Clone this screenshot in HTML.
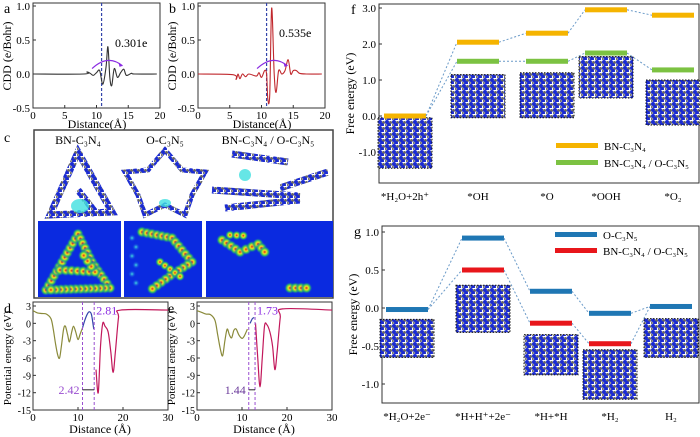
<!DOCTYPE html>
<html><head><meta charset="utf-8"><style>
body{margin:0;background:#fff}
svg{display:block;font-family:"Liberation Serif",serif}
</style></head><body>
<svg id="s" width="700" height="437" viewBox="0 0 700 437" xmlns="http://www.w3.org/2000/svg">
<defs>
<pattern id="mol" width="7" height="6" patternUnits="userSpaceOnUse">
<rect width="7" height="6" fill="#fff"/>
<circle cx="2" cy="2" r="2" fill="#1a2ad0"/><circle cx="5.5" cy="2.5" r="1.5" fill="#666"/>
<circle cx="4" cy="5" r="2" fill="#1a2ad0"/><circle cx="0.5" cy="5" r="1.4" fill="#777"/>
</pattern>
<radialGradient id="hot"><stop offset="0" stop-color="#e02020"/><stop offset=".3" stop-color="#f0e020"/><stop offset=".6" stop-color="#30c060"/><stop offset="1" stop-color="#0a2ae0" stop-opacity="0"/></radialGradient>
<radialGradient id="cool"><stop offset="0" stop-color="#40e0e0"/><stop offset="1" stop-color="#0a2ae0" stop-opacity="0"/></radialGradient>
</defs>
<g id="root"></g>
</svg>
<script>
// ---------- data ----------
const cddAx=[0,8,8.5,9,9.5,10,10.5,11,11.5,11.8,12.1,12.4,12.8,13.3,13.8,14.3,14.7,15.5,16,19.5];
const cddAy=[0,0,0.03,0.01,-0.02,0.02,0.05,-0.15,0.1,0.4,-0.05,-0.17,0.08,-0.05,0.02,0.07,-0.02,0.01,0,0];
const cddBx=[0,5.5,6,6.3,6.6,7,7.5,8,9.2,9.6,10,10.5,10.8,11,11.3,11.6,12,12.3,12.7,13.2,13.7,14.2,14.6,15,15.5,16,17,19.5];
const cddBy=[0,-0.01,-0.08,0,-0.07,0,-0.04,0,-0.03,0.02,-0.05,0.05,0,-0.37,-0.3,0.97,0,-0.27,0.05,0,0.05,0.21,0,0.05,0.05,0.01,0,0];
const peD_x=[0,1,2,3,4,4.5,5,5.5,5.9,6.3,6.8,7.2,7.7,8.1,8.6,9,9.5,10,10.5,11,11.5,12,12.5,13,13.5,14,14.5,15,15.5,16,16.7,17.3,17.8,18.3,19,19.5,30];
const peD_y=[2.2,1.8,1.7,1.6,0.8,-1,-3.5,-5.5,-6,-4,-1,-0.5,-2,-3.2,-1.5,-0.5,-1.5,-2.8,-1.8,-0.8,0.5,1.5,2,1.5,-1,-8,-12,-4,0,-0.5,-1.5,-5,-8.5,-5,1,2.3,2.3];
const peE_x=[0,1,2,3,4,4.6,5.2,5.7,6.2,6.7,7.2,7.7,8.2,8.7,9.3,10,10.5,11.2,11.8,12.3,12.7,13,13.5,14,14.5,15,15.5,16.2,16.8,17.3,17.8,18.5,19,30];
const peE_y=[2.2,1.9,1.6,1.5,0.5,-2,-4.5,-5.6,-3,-1,-2,-2.5,-1.2,-1,-2,-2.6,-2.2,-1,0,0.8,1,0,-6,-11,-6,-0.5,-0.2,-1.5,-4,-8,-5,1,2.5,2.3];
const fCats=["*H\u2082O+2h\u207A","*OH","*O","*OOH","*O\u2082"];
const fOrange=[0,2.05,2.3,2.95,2.8];
const fGreen=[null,1.52,1.52,1.75,1.28];
const fTicks=[3,2,1,0,-1];
const gCats=["*H\u2082O+2e\u207B","*H+H\u207A+2e\u207B","*H+*H","*H\u2082","H\u2082"];
const gBlue=[-0.02,0.92,0.22,-0.07,0.02];
const gRed=[null,0.5,-0.2,-0.47,null];
const gTicks=[1,0.5,0,-0.5,-1];

const NS="http://www.w3.org/2000/svg";
const root=document.getElementById('root');
function el(tag,attrs,parent,txt){const e=document.createElementNS(NS,tag);for(const k in attrs)e.setAttribute(k,attrs[k]);if(txt!=null)e.textContent=txt;(parent||root).appendChild(e);return e;}
function smooth(pts){let d="M"+pts[0][0]+","+pts[0][1];for(let i=0;i<pts.length-1;i++){const p0=pts[i-1]||pts[i],p1=pts[i],p2=pts[i+1],p3=pts[i+2]||p2;const c1=[p1[0]+(p2[0]-p0[0])/6,p1[1]+(p2[1]-p0[1])/6],c2=[p2[0]-(p3[0]-p1[0])/6,p2[1]-(p3[1]-p1[1])/6];d+=`C${c1[0]},${c1[1]} ${c2[0]},${c2[1]} ${p2[0]},${p2[1]}`;}return d;}
function fmt(v,n){return v.toFixed(n);}

// ---------- CDD panels ----------
function cdd(x0,xs,ys,color,letter,dash,label,lx,ly,name){
  const g=el('g',{});
  const X=v=>x0+v*6.35, Y=v=>74-v*68;
  el('rect',{x:x0,y:3,width:127,height:105,fill:'none',stroke:'#333','stroke-width':1},g);
  [1,0.5,0,-0.5].forEach(t=>{el('line',{x1:x0,x2:x0+3,y1:Y(t),y2:Y(t),stroke:'#333'},g);const tl=el('text',{x:x0-3,y:Y(t)+4,'text-anchor':'end','font-size':11},g,fmt(t,1));});
  [0,5,10,15,20].forEach(t=>{el('line',{x1:X(t),x2:X(t),y1:108,y2:105,stroke:'#333'},g);el('text',{x:X(t),y:119,'text-anchor':'middle','font-size':11},g,t);});
  const xt=el('text',{x:x0+64,y:128,'text-anchor':'middle','font-size':12},g,'Distance(\u00C5)');
  const yt=el('text',{transform:`translate(${x0-22},56) rotate(-90)`,'text-anchor':'middle','font-size':12},g,'CDD (e/Bohr)');
  el('text',{x:x0-29,y:13,'font-size':14},g,letter);
  el('line',{x1:X(dash),x2:X(dash),y1:3,y2:108,stroke:'#3344aa','stroke-dasharray':'3,2','stroke-width':1.2},g);
  const p=el('path',{d:smooth(xs.map((v,i)=>[X(v),Y(ys[i])])),fill:'none',stroke:color,'stroke-width':1.1},g);
  el('path',{d:`M${X(dash-1.5)},${Y(0.08)} Q${X(dash+1)},${Y(0.3)} ${X(dash+3.3)},${Y(0.12)}`,fill:'none',stroke:'#8a2be2','stroke-width':1.2},g);
  el('path',{d:`M${X(dash+3.3)},${Y(0.12)} l-4,-3 l1,4z`,fill:'#8a2be2'},g);
  el('text',{x:lx,y:ly,'font-size':12},g,label);
}
cdd(33,cddAx,cddAy,'#333','a',10.8,'0.301e',115,47,'panel-a-cdd');
cdd(198,cddBx,cddBy,'#c0282d','b',10.8,'0.535e',279,37,'panel-b-cdd');

// ---------- Panel c ----------
(function(){
  const g=el('g',{});
  el('text',{x:4,y:142,'font-size':14},g,'c');
  el('rect',{x:34,y:130,width:299,height:168,fill:'#fff',stroke:'#444','stroke-width':1.5},g);
  el('text',{x:78,y:144,'text-anchor':'middle','font-size':12},g,'BN-C\u2083N\u2084');
  el('text',{x:165,y:144,'text-anchor':'middle','font-size':12},g,'O-C\u2083N\u2085');
  el('text',{x:268,y:144,'text-anchor':'middle','font-size':12},g,'BN-C\u2083N\u2084 / O-C\u2083N\u2085');
  el('path',{d:'M78,152 L50,215 L112,212 Z M78,190 L95,212',fill:'none',stroke:'url(#mol)','stroke-width':7},g);
  el('path',{d:'M165,150 L182,170 L205,172 L192,195 L185,215 L165,205 L145,215 L138,195 L125,172 L148,170 Z',fill:'none',stroke:'url(#mol)','stroke-width':5},g);
  el('path',{d:'M232,154 L288,162 M212,190 L300,196 M280,188 L328,172 M225,208 L300,200',fill:'none',stroke:'url(#mol)','stroke-width':7},g);
  el('ellipse',{cx:80,cy:206,rx:9,ry:7,fill:'#40e0e0',opacity:.8},g);
  el('ellipse',{cx:165,cy:203,rx:6,ry:4,fill:'#40e0e0',opacity:.8},g);
  el('ellipse',{cx:245,cy:175,rx:6,ry:6,fill:'#40e0e0',opacity:.8},g);
  [[38,83],[124,78],[206,127]].forEach(([x,w])=>el('rect',{x:x,y:221,width:w,height:76,fill:'#0a2ae0'},g));
  // density clouds along structure skeletons (decorative)
  function chain(pts,step,r){for(let i=0;i<pts.length-1;i++){const [x1,y1]=pts[i],[x2,y2]=pts[i+1];const n=Math.max(1,Math.round(Math.hypot(x2-x1,y2-y1)/step));for(let j=0;j<n;j++){el('circle',{cx:x1+(x2-x1)*j/n,cy:y1+(y2-y1)*j/n,r:r,fill:'url(#hot)'},g);}}}
  chain([[46,290],[62,262],[78,234],[92,262],[110,288],[46,290]],5,6);
  chain([[60,270],[95,272],[80,250]],6,6);
  chain([[142,232],[172,238],[192,262],[170,276],[148,292]],5,6);
  chain([[160,262],[185,280]],6,5);
  for(let i=0;i<6;i++)el('circle',{cx:132+(i%2)*4,cy:238+i*9,r:4,fill:'url(#cool)'},g);
  chain([[222,240],[240,252],[258,244],[268,256]],6,6);
  chain([[230,235],[250,236]],6,5);
  chain([[290,288],[312,288]],6,6);
})();

// ---------- PE panels ----------
function pe(x0,xs,ys,letter,name,dl,dr,lab1,lab2,bot){
  const g=el('g',{});
  const X=v=>x0+v*4.5, Y=v=>306+(3-v)*5.78;
  el('rect',{x:x0,y:302,width:135,height:108,fill:'none',stroke:'#333'},g);
  [3,0,-3,-6,-9,-12,-15].forEach(t=>{el('line',{x1:x0,x2:x0+3,y1:Y(t),y2:Y(t),stroke:'#333'},g);el('text',{x:x0-2,y:Y(t)+4,'text-anchor':'end','font-size':10},g,t);});
  [0,10,20,30].forEach(t=>{el('line',{x1:X(t),x2:X(t),y1:410,y2:407,stroke:'#333'},g);el('text',{x:X(t),y:421,'text-anchor':'middle','font-size':11},g,t);});
  el('text',{x:x0+67,y:433,'text-anchor':'middle','font-size':12},g,'Distance (\u00C5)');
  el('text',{transform:`translate(${x0-22},358) rotate(-90)`,'text-anchor':'middle','font-size':11},g,'Potential energy (eV)');
  el('text',{x:x0-29,y:313,'font-size':14},g,letter);
  const pts=xs.map((v,i)=>[X(v),Y(ys[i])]);
  const segs=[[0,v=>v<=dl,'#8a8a3a'],[1,v=>v>=dl&&v<=dr,'#3344aa'],[2,v=>v>=dr,'#c2185b']];
  segs.forEach(([k,f,c])=>{const sub=pts.filter((p,i)=>f(xs[i]));const pth=el('path',{d:smooth(sub),fill:'none',stroke:c,'stroke-width':1.2},g);});
  [dl,dr].forEach(v=>el('line',{x1:X(v),x2:X(v),y1:302,y2:410,stroke:'#9a4fd0','stroke-dasharray':'3,2'},g));
  el('line',{x1:X(dl),x2:X(dr),y1:Y(-11.5),y2:Y(-11.5),stroke:'#222'},g);
  el('text',{x:X(dl)-3,y:Y(-11.5)+4,'text-anchor':'end','font-size':12,fill:bot},g,lab2);
  el('text',{x:X(dr)+2,y:Y(1.5),'font-size':12,fill:'#8a2be2'},g,lab1);
}
pe(33,peD_x,peD_y,'d','panel-d-potential',11,13.6,'2.81','2.42','#9a4fd0');
pe(197,peE_x,peE_y,'e','panel-e-potential',11.5,12.9,'1.73','1.44','#6a3a9a');

// ---------- Energy diagrams ----------
function diagram(opt){
  const g=el('g',{});
  const Y=v=>opt.y0-v*opt.k;
  el('rect',{x:opt.bx,y:opt.top,width:699-opt.bx,height:opt.bot-opt.top,fill:'none',stroke:'#333'},g);
  opt.ticks.forEach(t=>{el('line',{x1:opt.bx,x2:opt.bx+3,y1:Y(t),y2:Y(t),stroke:'#333'},g);const tl=el('text',{x:opt.bx-3,y:Y(t)+4,'text-anchor':'end','font-size':11},g,fmt(t,1));});
  const yt=el('text',{transform:`translate(${opt.bx-25},${(opt.top+opt.bot)/2}) rotate(-90)`,'text-anchor':'middle','font-size':12},g,'Free energy (eV)');
  el('text',{x:opt.bx-28,y:opt.top+10,'font-size':14},g,opt.letter);
  opt.insets.forEach(([cx,y1,y2])=>{const r=el('rect',{x:cx-27,y:Y(y1),width:54,height:Y(y2)-Y(y1),fill:'url(#mol)',stroke:'#111','stroke-dasharray':'1.5,1.5'},g);});
  opt.series.forEach(([vals,color,sname])=>{
    let prev=null;
    vals.forEach((v,i)=>{if(v==null){prev=null;return;}const cx=opt.cx[i];
      if(prev)el('line',{x1:prev[0],y1:prev[1],x2:cx-21,y2:Y(v),stroke:'#6a9ac8','stroke-dasharray':'2,2'},g);
      const b=el('rect',{x:cx-21,y:Y(v)-2.5,width:42,height:5,fill:color},g);
      prev=[cx+21,Y(v)];});
  });
  (opt.extraLinks||[]).forEach(([si,from,sj,to])=>{const a=opt.series[si][0][from],b=opt.series[sj][0][to];el('line',{x1:opt.cx[from]+21,y1:Y(a),x2:opt.cx[to]-21,y2:Y(b),stroke:'#6a9ac8','stroke-dasharray':'2,2'},g);});
  opt.cats.forEach((c,i)=>{const t=el('text',{x:opt.cx[i],y:opt.labY,'text-anchor':'middle','font-size':11},g,c);});
  opt.legend.forEach(([color,txt],i)=>{const lx=opt.legX,ly=opt.legY+i*opt.legDy;el('rect',{x:lx,y:ly-3,width:42,height:5,fill:color},g);const t=el('text',{x:lx+48,y:ly+4,'font-size':11},g,txt);});
}
diagram({name:'panel-f-oer-diagram',letter:'f',bx:379,top:4,bot:183,y0:116,k:36,ticks:fTicks,cx:[405,478,547,606,673],cats:fCats,labY:200,
  series:[[fOrange,'#f5b400','bar-bn-c3n4'],[fGreen,'#7cc242','bar-heterojunction']],extraLinks:[[0,0,1,1]],
  insets:[[405,-0.05,-1.45],[478,1.15,-0.05],[547,1.2,-0.05],[606,1.65,0.5],[673,1.0,-0.25]],
  legend:[['#f5b400','BN-C\u2083N\u2084'],['#7cc242','BN-C\u2083N\u2084 / O-C\u2083N\u2085']],legX:556,legY:146,legDy:17});
diagram({name:'panel-g-her-diagram',letter:'g',bx:382,top:226,bot:403,y0:308,k:76,ticks:gTicks,cx:[407,483,551,610,671],cats:gCats,labY:420,
  series:[[gBlue,'#1f77b4','bar-o-c3n5'],[gRed,'#e8161b','bar-heterojunction']],extraLinks:[[0,0,1,1],[1,3,0,4]],
  insets:[[407,-0.15,-0.65],[483,0.3,-0.32],[551,-0.35,-0.88],[610,-0.55,-1.2],[671,-0.14,-0.65]],
  legend:[['#1f77b4','O-C\u2083N\u2085'],['#e8161b','BN-C\u2083N\u2084 / O-C\u2083N\u2085']],legX:555,legY:235,legDy:16});
</script>
</body></html>
